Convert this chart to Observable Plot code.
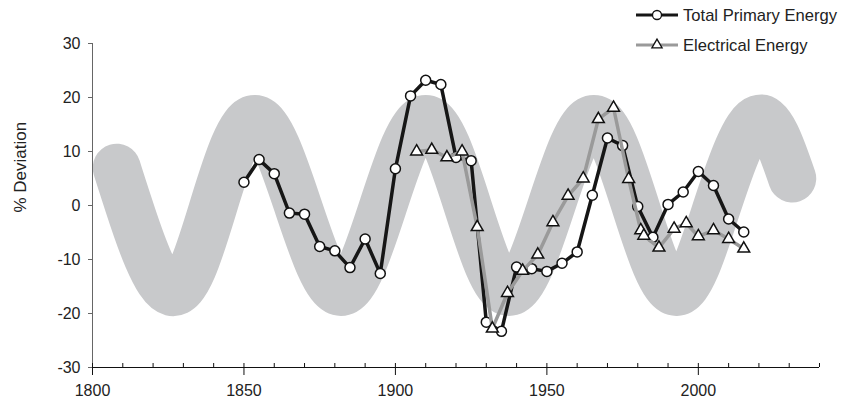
<!DOCTYPE html>
<html>
<head>
<meta charset="utf-8">
<script src="https://cdn.jsdelivr.net/npm/d3@7"></script>
<script src="https://cdn.jsdelivr.net/npm/@observablehq/plot@0.6"></script>
<style>
  html, body { margin: 0; padding: 0; background: #fff; }
  #wrap { position: relative; width: 841px; height: 410px; font-family: "Liberation Sans", Arial, sans-serif; }
  #legend { position: absolute; left: 0; top: 0; pointer-events: none; }
</style>
</head>
<body>
<div id="wrap"></div>
<script>
// Long-wave band (centre line: extremes and crossings)
const waveYears  = [1808, 1812, 1826, 1840, 1853.6, 1867.8, 1882, 1896, 1910, 1923.8, 1937.5, 1951.5, 1965.5, 1979.2, 1992.8, 2006.3, 2019.7, 2031];
const waveValues = [7, 0, -16, 0, 16, 0, -16, 0, 16, 0, -16, 0, 16, 0, -16, 0, 16, 5];

// Total Primary Energy (% deviation)
const totalYears  = [1850, 1855, 1860, 1865, 1870, 1875, 1880, 1885, 1890, 1895, 1900, 1905, 1910, 1915, 1920, 1925, 1930, 1935, 1940, 1945, 1950, 1955, 1960, 1965, 1970, 1975, 1980, 1985, 1990, 1995, 2000, 2005, 2010, 2015];
const totalValues = [4.3, 8.5, 5.9, -1.4, -1.6, -7.6, -8.4, -11.5, -6.2, -12.6, 6.8, 20.3, 23.2, 22.4, 8.9, 8.3, -21.6, -23.3, -11.4, -11.7, -12.2, -10.7, -8.6, 1.9, 12.5, 11.1, -0.2, -5.9, 0.2, 2.5, 6.3, 3.7, -2.5, -4.9];

// Electrical Energy (% deviation)
const elecYears  = [1907, 1912, 1917, 1922, 1927, 1932, 1937, 1942, 1947, 1952, 1957, 1962, 1967, 1972, 1977, 1981, 1982, 1987, 1992, 1996, 2000, 2005, 2010, 2015];
const elecValues = [10.0, 10.3, 8.9, 10.0, -4.0, -22.8, -16.2, -12.1, -9.1, -3.1, 1.8, 5.0, 16.0, 18.1, 4.9, -4.6, -5.6, -7.8, -4.3, -3.3, -5.7, -4.6, -6.2, -8.0];

const yTicks = [-30, -20, -10, 0, 10, 20, 30];
const xMajorTicks = [1800, 1850, 1900, 1950, 2000];
const xMinorTicks = [1800, 1810, 1820, 1830, 1840, 1850, 1860, 1870, 1880, 1890, 1900, 1910, 1920, 1930, 1940, 1950, 1960, 1970, 1980, 1990, 2000, 2010, 2020, 2030, 2040];

const seriesNames = ["Total Primary Energy", "Electrical Energy"];
const yLabel = "% Deviation";

const wave  = waveYears.map((x, i) => ({x, y: waveValues[i]}));
const total = totalYears.map((x, i) => ({x, y: totalValues[i]}));
const elec  = elecYears.map((x, i) => ({x, y: elecValues[i]}));

const chart = Plot.plot({
  width: 841,
  height: 410,
  marginLeft: 92,
  marginRight: 22,
  marginTop: 43,
  marginBottom: 43,
  x: {domain: [1800, 2040]},
  y: {domain: [-30, 30]},
  style: {fontFamily: '"Liberation Sans", Arial, sans-serif', fontSize: "16px", color: "#222", background: "#fff"},
  marks: [
    Plot.line(wave, {x: "x", y: "y", curve: "natural", stroke: "#c8c9cb", strokeWidth: 48, strokeLinecap: "round", strokeLinejoin: "round"}),
    Plot.ruleX([1800], {stroke: "#666", strokeWidth: 1}),
    Plot.ruleY([-30], {stroke: "#111", strokeWidth: 1}),
    Plot.axisY({ticks: yTicks, tickSize: 4, tickPadding: 8, stroke: "#666", fill: "#222", label: null, tickFormat: d => String(d)}),
    Plot.axisX({ticks: xMinorTicks, tickSize: -4, stroke: "#111", fill: "none", label: null}),
    Plot.axisX({ticks: xMajorTicks, tickSize: 8, tickPadding: 9, stroke: "#111", fill: "#222", label: null, tickFormat: d => String(d)}),
    Plot.text([yLabel], {text: d => d, frameAnchor: "left", rotate: -90, dx: -72, dy: 7, fontSize: 17, fill: "#222"}),
    Plot.line(total, {x: "x", y: "y", stroke: "#161616", strokeWidth: 3.5, strokeLinejoin: "round"}),
    Plot.dot(total, {x: "x", y: "y", symbol: "circle", r: 5, fill: "#fff", stroke: "#111", strokeWidth: 1.5}),
    Plot.line(elec, {x: "x", y: "y", stroke: "#9a9a9a", strokeWidth: 3.5, strokeLinejoin: "round"}),
    Plot.dot(elec, {x: "x", y: "y", symbol: "triangle", r: 4.4, fill: "#fff", stroke: "#111", strokeWidth: 1.5})
  ]
});

const wrap = document.getElementById("wrap");
wrap.appendChild(chart);

// Legend overlay (top right)
const ns = "http://www.w3.org/2000/svg";
const lg = document.createElementNS(ns, "svg");
lg.setAttribute("id", "legend");
lg.setAttribute("width", 841);
lg.setAttribute("height", 60);
const styles = [
  {stroke: "#161616", sym: "circle"},
  {stroke: "#9a9a9a", sym: "triangle"}
];
seriesNames.forEach((name, i) => {
  const cy = 15 + i * 30;
  const line = document.createElementNS(ns, "line");
  line.setAttribute("x1", 636); line.setAttribute("x2", 678);
  line.setAttribute("y1", cy); line.setAttribute("y2", cy);
  line.setAttribute("stroke", styles[i].stroke);
  line.setAttribute("stroke-width", 3);
  lg.appendChild(line);
  const p = document.createElementNS(ns, "path");
  const s = styles[i].sym === "circle" ? d3.symbol(d3.symbolCircle, Math.PI * 4.5 * 4.5) : d3.symbol(d3.symbolTriangle, Math.PI * 3.8 * 3.8);
  p.setAttribute("d", s());
  p.setAttribute("transform", `translate(657,${cy})`);
  p.setAttribute("fill", "#fff");
  p.setAttribute("stroke", "#111");
  p.setAttribute("stroke-width", 1.3);
  lg.appendChild(p);
  const t = document.createElementNS(ns, "text");
  t.setAttribute("x", 683);
  t.setAttribute("y", cy);
  t.setAttribute("dy", "0.35em");
  t.setAttribute("font-size", "16.6px");
  t.setAttribute("fill", "#222");
  t.setAttribute("font-family", '"Liberation Sans", Arial, sans-serif');
  t.textContent = name;
  lg.appendChild(t);
});
wrap.appendChild(lg);
</script>
</body>
</html>
